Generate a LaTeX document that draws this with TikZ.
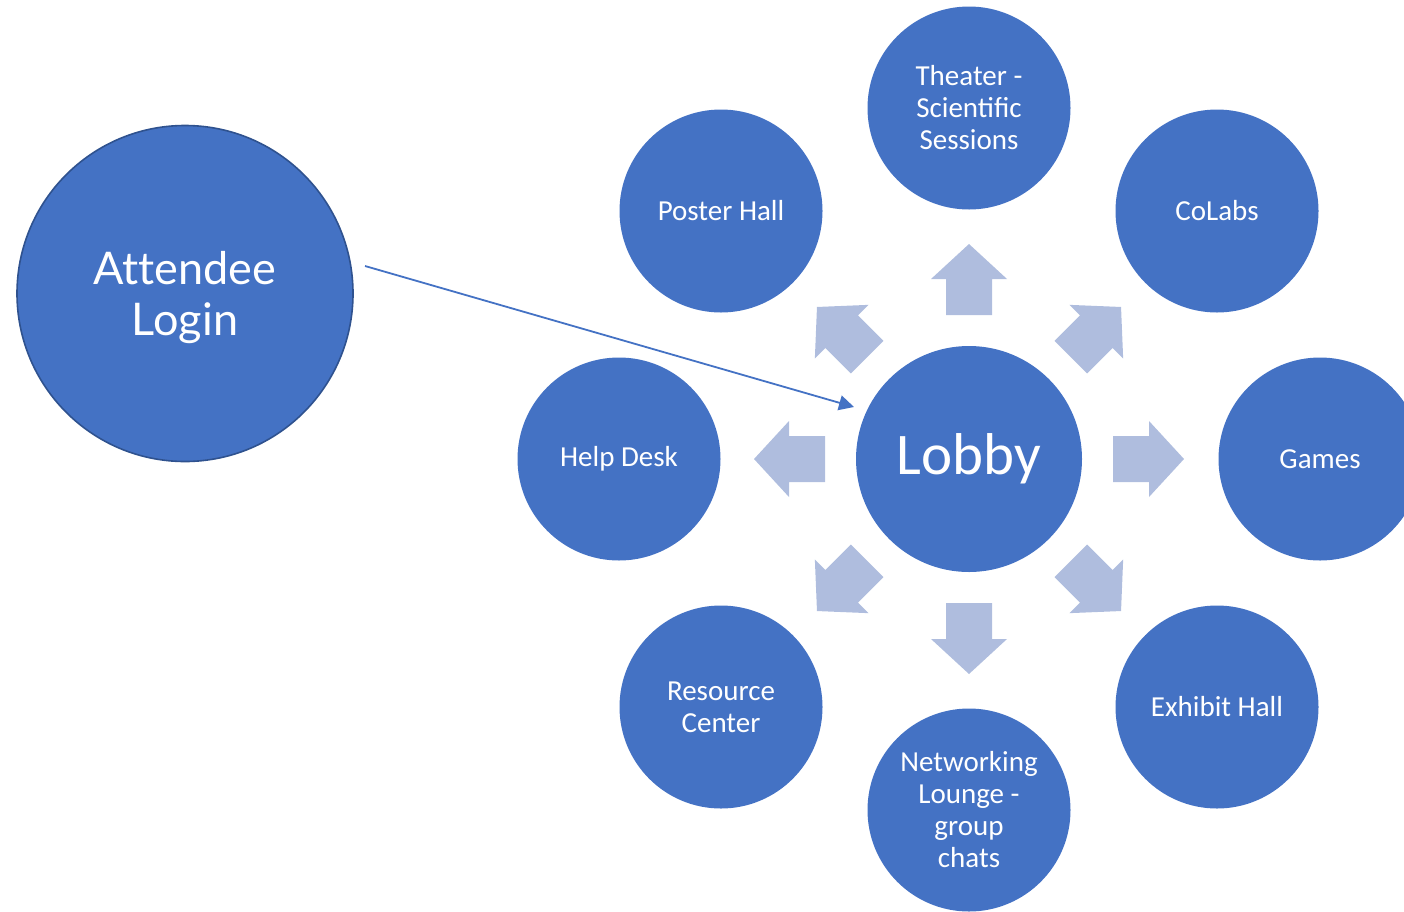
\documentclass[tikz,border=0pt]{standalone}
\usepackage{fontspec}
\setmainfont{Carlito}
\newfontfamily\attfont[Ligatures=NoCommon]{Lato}
\usetikzlibrary{arrows.meta,calc}
\definecolor{circblue}{HTML}{4472C4}
\definecolor{circedge}{HTML}{2F528F}
\definecolor{arrowfill}{RGB}{175,189,222}
\tikzset{
  room/.style={circle, fill=circblue, minimum size=203pt, inner sep=0pt,
    text=white, align=center, font=\fontsize{29}{32}\selectfont},
  blockarrow/.style={fill=arrowfill},
  link/.style={draw=circblue, line width=1.8pt, -{Triangle[length=15pt,width=15pt]}}
}
\newcommand\roomarrow[1]{%
  \begin{scope}[shift={(lobby.center)}, rotate=#1]
    \fill[blockarrow] (144pt,-23pt) -- (180pt,-23pt) -- (180pt,-38pt) -- (215pt,0pt)
      -- (180pt,38pt) -- (180pt,23pt) -- (144pt,23pt) -- cycle;
  \end{scope}}
\begin{document}
\begin{tikzpicture}[x=1pt,y=-1pt]
\useasboundingbox (0,0) rectangle (1404,911);
\clip (0,0) rectangle (1404,911);
% Attendee login
\node[circle, fill=circblue, draw=circedge, line width=1.6pt, minimum size=336pt,
  inner sep=0pt,
  label={[text=white, align=center, yshift=-4pt,
    font=\attfont\fontsize{45}{51}\selectfont]center:Attendee\\Login}] (att) at (185,293.5) {};
% Lobby
\node[room, minimum size=226pt, font=\fontsize{59}{60}\selectfont] (lobby) at (969,459) {Lobby};
% rooms
\node[room] (theater) at (969,108) {Theater -\\Scientific\\Sessions};
\node[room] (poster) at (721,211) {Poster Hall};
\node[room] (colabs) at (1217,211) {CoLabs};
\node[room] (help) at (619,459) {Help Desk};
\node[room] (games) at (1320,459) {Games};
\node[room] (resource) at (721,707) {Resource\\Center};
\node[room] (network) at (969,810) {Networking\\Lounge -\\group\\chats};
\node[room] (exhibit) at (1217,707) {Exhibit Hall};
% block arrows
\roomarrow{0}
\roomarrow{45}
\roomarrow{90}
\roomarrow{135}
\roomarrow{180}
\roomarrow{225}
\roomarrow{270}
\roomarrow{315}
% connector
\coordinate (linkstart) at (365,266);
\coordinate (linkend) at (854,407);
\draw[link] (linkstart) -- (linkend);
\end{tikzpicture}
\end{document}
